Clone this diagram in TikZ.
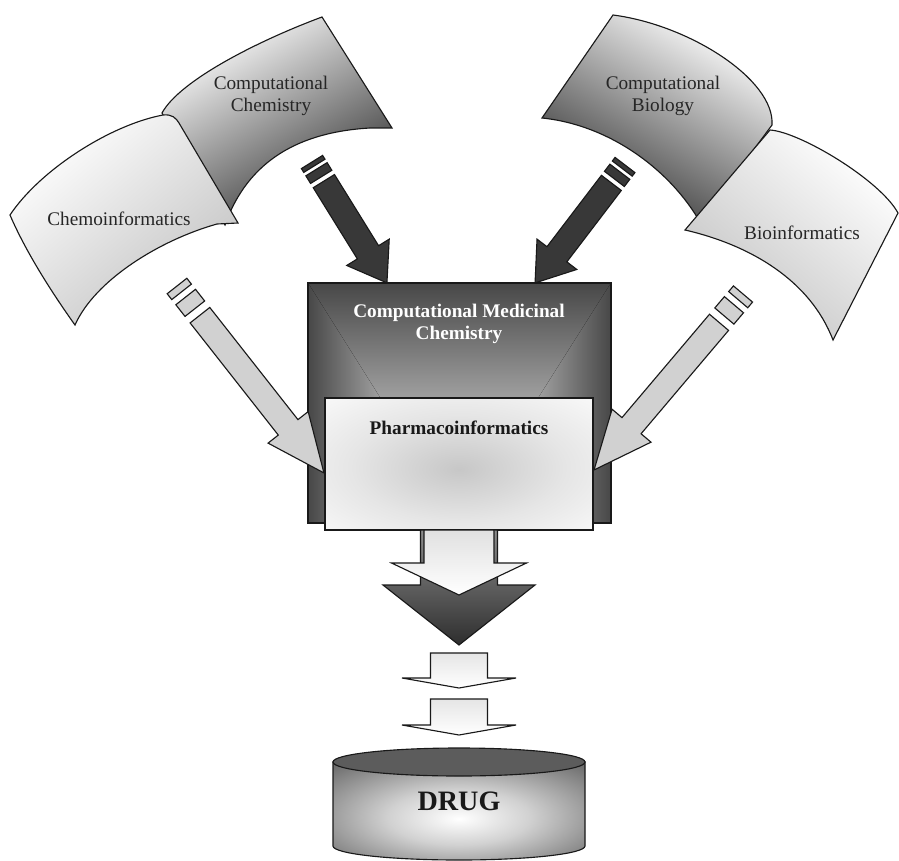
\documentclass[tikz,border=0pt]{standalone}
\usepackage{fontspec}
\setmainfont{Liberation Serif}
\usetikzlibrary{positioning}

\pgfdeclareradialshading{pharmashade}{\pgfpoint{0bp}{-2bp}}{color(0bp)=(black!22); color(20bp)=(black!10); color(42bp)=(white); color(75bp)=(white)}
\pgfdeclareradialshading{drugshade}{\pgfpoint{0bp}{-4bp}}{color(0bp)=(white); color(14bp)=(black!18); color(38bp)=(black!62); color(75bp)=(black!75)}

\tikzset{
    outline/.style={draw=black!90, line width=0.8pt},
    sheettext/.style={font=\fontsize{13.7}{15.5}\selectfont, align=center, text=black!85},
    boxtext/.style={font=\bfseries\fontsize{13.7}{15.5}\selectfont, align=center},
    darkarrow/.style={outline, fill=black!78},
    lightarrow/.style={outline, fill=black!18},
}

% striped block arrow: style, tail, tip, half shaft, half head, head length, bar scale
\newcommand\stripedarrow[7]{%
    \pgfpointdiff{\pgfpointanchor{#2}{center}}{\pgfpointanchor{#3}{center}}%
    \pgfgetlastxy{\arrdx}{\arrdy}%
    \pgfmathsetmacro\arrang{atan2(\arrdy,\arrdx)}%
    \pgfmathsetmacro\arrlen{veclen(\arrdx,\arrdy)/0.71132}%
    \begin{scope}[shift={(#2)}, rotate=\arrang]
        \draw[#1] (0,-#4) rectangle (4.5*#7,#4);
        \draw[#1] (8.5*#7,-#4) rectangle (17.5*#7,#4);
        \draw[#1] (22.5*#7,-#4) -- (\arrlen-#6,-#4) -- (\arrlen-#6,-#5) -- (\arrlen,0)
            -- (\arrlen-#6,#5) -- (\arrlen-#6,#4) -- (22.5*#7,#4) -- cycle;
    \end{scope}}

% downward block arrow: style, centre x, top y, half shaft, head y, half head, tip y
\newcommand\droparrow[7]{%
    \draw[#1] (#2-#4,#3) -- (#2-#4,#5) -- (#2-#6,#5) -- (#2,#7)
        -- (#2+#6,#5) -- (#2+#4,#5) -- (#2+#4,#3) -- cycle;}

\begin{document}
\begin{tikzpicture}[x=0.025cm, y=-0.025cm]
    \useasboundingbox (0,0) rectangle (899,860);

    % sheets on the left
    \draw[outline, top color=white, bottom color=black!82, shading angle=30]
        (162,113) .. controls (180,80) and (260,40) .. (322,17) -- (392,128) -- (370,128)
        .. controls (300,132) and (248,160) .. (225,225) -- cycle;
    \draw[outline, top color=white, bottom color=black!24, shading angle=40]
        (10,215) .. controls (40,170) and (110,125) .. (163,115)
        .. controls (172,114) and (176,118) .. (179,123) -- (238,223) -- (217,224)
        .. controls (160,240) and (95,280) .. (75,325)
        .. controls (50,290) and (25,250) .. cycle;

    % sheets on the right
    \draw[outline, top color=white, bottom color=black!82, shading angle=-30]
        (542,118) -- (613,15) .. controls (690,25) and (775,80) .. (772,125) -- (700,222)
        .. controls (670,170) and (610,125) .. cycle;
    \draw[outline, top color=white, bottom color=black!24, shading angle=-40]
        (685,230) -- (770,130) .. controls (800,132) and (880,180) .. (898,213) -- (833,340)
        .. controls (810,280) and (750,245) .. cycle;

    % computational medicinal chemistry, shaded towards the bottom centre
    \coordinate (c0) at (459,523);
    \fill[top color=black!72, middle color=black!22, bottom color=white]
        (308,283) -- (611,283) -- (c0) -- cycle;
    \fill[left color=black!72, middle color=black!22, right color=white]
        (308,283) -- (c0) -- (308,523) -- cycle;
    \fill[left color=white, middle color=black!22, right color=black!72]
        (611,283) -- (611,523) -- (c0) -- cycle;
    \draw[outline] (308,283) rectangle (611,523);

    \coordinate (s1) at (312,162);
    \coordinate (e1) at (387,283);
    \coordinate (s2) at (625,165);
    \coordinate (e2) at (535,283);
    \coordinate (s3) at (177,286);
    \coordinate (e3) at (324,473);
    \coordinate (s4) at (743,294);
    \coordinate (e4) at (594,470);
    \stripedarrow{darkarrow}{s1}{e1}{12.5}{25}{36}{1}
    \stripedarrow{darkarrow}{s2}{e2}{12.5}{25}{36}{1}
    \stripedarrow{lightarrow}{s3}{e3}{12.5}{25.5}{58}{1.65}
    \stripedarrow{lightarrow}{s4}{e4}{12.5}{25.5}{58}{1.65}

    % pharmacoinformatics
    \draw[outline, shading=pharmashade] (325,398) rectangle (593,530);

    % arrows down to the drug
    \droparrow{outline, top color=black!45, bottom color=black!82}{459}{530}{38.5}{585}{76}{645}
    \droparrow{outline, top color=black!12, bottom color=white}{459}{530}{35}{563}{67.5}{595}
    \droparrow{outline, top color=black!10, bottom color=white}{459}{653}{28.5}{678}{57}{688}
    \droparrow{outline, top color=black!10, bottom color=white}{459}{699}{28.5}{725}{57}{735}

    % drug cylinder
    \draw[outline, shading=drugshade] (333,762) -- (333,846)
        arc[start angle=180, end angle=0, x radius=126, y radius=14] -- (585,762) -- cycle;
    \draw[outline, fill=black!64] (459,762) ellipse [x radius=126, y radius=14];

    \node[sheettext] (n1) at (119,219) {Chemoinformatics};
    \node[sheettext] (n2) at (271,96) {Computational\\Chemistry};
    \node[sheettext] (n3) at (663,96) {Computational\\Biology};
    \node[sheettext] (n4) at (802,233) {Bioinformatics};
    \node[boxtext, text=white] (n5) at (459,324) {Computational Medicinal\\Chemistry};
    \node[boxtext, text=black!90] (n6) at (459,428) {Pharmacoinformatics};
    \node[font=\bfseries\fontsize{20}{22}\selectfont, text=black!90] (n7) at (459,801) {DRUG};
\end{tikzpicture}
\end{document}
